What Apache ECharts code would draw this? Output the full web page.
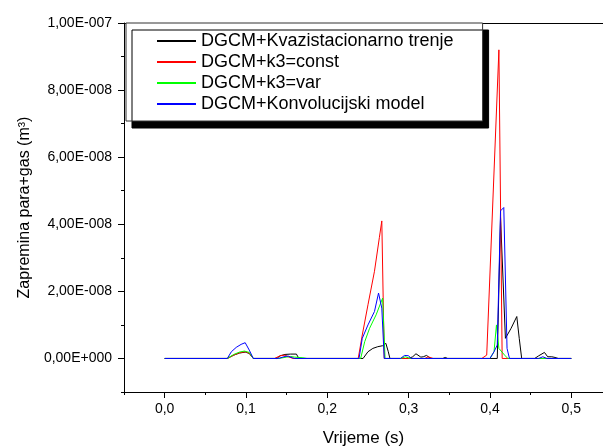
<!DOCTYPE html>
<html>
<head>
<meta charset="utf-8">
<script src="https://cdn.jsdelivr.net/npm/echarts@6/dist/echarts.min.js"></script>
<style>
  html, body { margin: 0; padding: 0; background: #fff; }
  #chart { width: 603px; height: 447px; }
</style>
</head>
<body>
<div id="chart"></div>
<script>
// volume in units of 1e-8 m^3, time in s
const blackT = [0, 0.077, 0.085, 0.092, 0.099, 0.104, 0.109, 0.138, 0.142, 0.148, 0.155, 0.162, 0.165, 0.244, 0.25, 0.256, 0.262, 0.268, 0.272, 0.275, 0.277, 0.30, 0.305, 0.309, 0.315, 0.318, 0.322, 0.327, 0.342, 0.345, 0.348, 0.409, 0.413, 0.419, 0.426, 0.433, 0.436, 0.439, 0.455, 0.46, 0.467, 0.471, 0.476, 0.48, 0.484, 0.5];
const blackV = [0, 0, 0.1, 0.16, 0.19, 0.15, 0, 0, 0.08, 0.12, 0.13, 0.13, 0, 0, 0.2, 0.3, 0.35, 0.38, 0.45, 0.2, 0, 0, 0.05, 0.14, 0.04, 0.05, 0.09, 0, 0, 0.03, 0, 0, 4.2, 0.6, 0.9, 1.25, 0.6, 0, 0, 0.08, 0.18, 0.05, 0.05, 0.03, 0, 0];

const redT = [0, 0.077, 0.085, 0.092, 0.099, 0.104, 0.109, 0.135, 0.142, 0.148, 0.152, 0.158, 0.238, 0.243, 0.25, 0.258, 0.264, 0.267, 0.27, 0.32, 0.324, 0.33, 0.39, 0.396, 0.411, 0.415, 0.5];
const redV = [0, 0, 0.1, 0.17, 0.2, 0.16, 0, 0, 0.08, 0.1, 0.05, 0, 0, 0.7, 1.6, 2.6, 3.6, 4.1, 0, 0, 0.05, 0, 0, 0.1, 9.2, 0, 0];

const greenT = [0, 0.077, 0.085, 0.092, 0.098, 0.104, 0.109, 0.14, 0.15, 0.155, 0.16, 0.17, 0.175, 0.241, 0.246, 0.252, 0.26, 0.268, 0.271, 0.29, 0.296, 0.302, 0.40, 0.405, 0.408, 0.411, 0.418, 0.422, 0.5];
const greenV = [0, 0, 0.12, 0.19, 0.22, 0.18, 0, 0, 0.04, 0.06, 0.04, 0.02, 0, 0, 0.5, 0.9, 1.3, 1.8, 0, 0, 0.05, 0, 0, 0.2, 1.0, 0.3, 0.1, 0, 0];

const blueT = [0, 0.077, 0.082, 0.088, 0.094, 0.099, 0.104, 0.109, 0.14, 0.148, 0.152, 0.157, 0.16, 0.239, 0.243, 0.25, 0.258, 0.263, 0.267, 0.27, 0.29, 0.295, 0.30, 0.303, 0.40, 0.405, 0.409, 0.413, 0.417, 0.421, 0.424, 0.46, 0.465, 0.47, 0.5];
const blueV = [0, 0, 0.2, 0.33, 0.42, 0.47, 0.25, 0, 0, 0.06, 0.07, 0.02, 0, 0, 0.6, 1.0, 1.4, 1.95, 1.5, 0, 0, 0.09, 0.08, 0, 0, 0.2, 0.4, 4.4, 4.5, 0.3, 0, 0, 0.05, 0, 0];

const seriesNames = ['DGCM+Kvazistacionarno trenje', 'DGCM+k3=const', 'DGCM+k3=var', 'DGCM+Konvolucijski model'];

const xTicks = [0, 0.1, 0.2, 0.3, 0.4, 0.5];
const xTickLabels = ['0,0', '0,1', '0,2', '0,3', '0,4', '0,5'];
const xMinorTicks = [-0.05, 0.05, 0.15, 0.25, 0.35, 0.45];
const yTicks = [0, 2, 4, 6, 8, 10];
const yTickLabels = ['0,00E+000', '2,00E-008', '4,00E-008', '6,00E-008', '8,00E-008', '1,00E-007'];
const yMinorTicks = [-1, 1, 3, 5, 7, 9];

function zip(t, v) {
  return t.map((x, i) => [x, v[i]]);
}

const chart = echarts.init(document.getElementById('chart'));
const font = 'Liberation Sans, Arial, sans-serif';
// the plot runs past the right edge of the picture
const xMin = -0.05, xMax = 0.539;

chart.setOption({
  animation: false,
  textStyle: { fontFamily: font },
  grid: { left: 124, top: 23, right: 0, bottom: 55, outerBoundsMode: 'none' },
  legend: {
    orient: 'vertical',
    left: 126, top: 23,
    padding: [9, 29, 8, 31],
    itemGap: 3,
    itemWidth: 39,
    itemHeight: 2,
    icon: 'rect',
    backgroundColor: '#fff',
    borderColor: '#333',
    borderWidth: 1,
    shadowColor: '#000',
    shadowBlur: 0,
    shadowOffsetX: 6,
    shadowOffsetY: 7,
    textStyle: { fontSize: 18, color: '#000', fontFamily: font },
    data: seriesNames
  },
  xAxis: [{
    type: 'value', min: xMin, max: xMax,
    name: 'Vrijeme (s)', nameLocation: 'middle', nameGap: 38,
    nameTextStyle: { fontSize: 17, color: '#000' },
    splitLine: { show: false },
    axisLine: { onZero: false, lineStyle: { color: '#000', width: 1 } },
    axisTick: { customValues: xTicks, length: 6, lineStyle: { color: '#000' } },
    axisLabel: {
      customValues: xTicks, margin: 10, fontSize: 14, color: '#000',
      formatter: v => xTickLabels[xTicks.findIndex(t => Math.abs(t - v) < 1e-9)]
    }
  }, {
    type: 'value', min: xMin, max: xMax, position: 'bottom',
    splitLine: { show: false },
    axisLine: { show: false, onZero: false },
    axisTick: { customValues: xMinorTicks, length: 3, lineStyle: { color: '#000' } },
    axisLabel: { show: false }
  }, {
    type: 'value', min: xMin, max: xMax, position: 'top',
    splitLine: { show: false },
    axisLine: { onZero: false, lineStyle: { color: '#000', width: 1 } },
    axisTick: { show: false },
    axisLabel: { show: false }
  }],
  yAxis: [{
    type: 'value', min: -1, max: 10,
    name: 'Zapremina para+gas (m³)', nameLocation: 'middle', nameGap: 91,
    nameTextStyle: { fontSize: 16, color: '#000' },
    splitLine: { show: false },
    axisLine: { onZero: false, lineStyle: { color: '#000', width: 1 } },
    axisTick: { customValues: yTicks, length: 6, lineStyle: { color: '#000' } },
    axisLabel: {
      customValues: yTicks, margin: 12, fontSize: 14, color: '#000',
      formatter: v => yTickLabels[yTicks.indexOf(v)]
    }
  }, {
    type: 'value', min: -1, max: 10, position: 'left',
    splitLine: { show: false },
    axisLine: { show: false, onZero: false },
    axisTick: { customValues: yMinorTicks, length: 3, lineStyle: { color: '#000' } },
    axisLabel: { show: false }
  }],
  series: [
    { name: seriesNames[0], type: 'line', data: zip(blackT, blackV), showSymbol: false, color: '#000000', lineStyle: { width: 1 } },
    { name: seriesNames[1], type: 'line', data: zip(redT, redV), showSymbol: false, color: '#ff0000', lineStyle: { width: 1 } },
    { name: seriesNames[2], type: 'line', data: zip(greenT, greenV), showSymbol: false, color: '#00ff00', lineStyle: { width: 1 } },
    { name: seriesNames[3], type: 'line', data: zip(blueT, blueV), showSymbol: false, color: '#0000ff', lineStyle: { width: 1 } }
  ]
});
</script>
</body>
</html>
